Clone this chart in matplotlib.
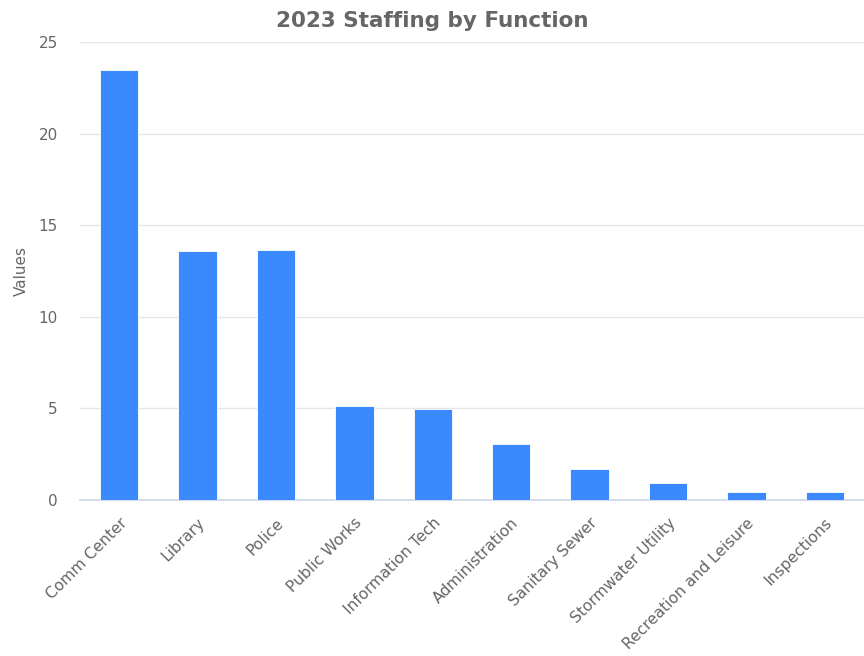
import matplotlib.pyplot as plt

functions = ["Comm Center", "Library", "Police", "Public Works", "Information Tech",
             "Administration", "Sanitary Sewer", "Stormwater Utility",
             "Recreation and Leisure", "Inspections"]
staff = [23.45, 13.6, 13.65, 5.12, 4.95, 3.07, 1.68, 0.95, 0.45, 0.45]
y_ticks = [0, 5, 10, 15, 20, 25]

plt.rcParams['font.family'] = ['DejaVu Sans']

fig = plt.figure(figsize=(8.64, 6.56), dpi=100)
ax = fig.add_axes([80 / 864, 156 / 656, 784 / 864, 458 / 656])

ax.bar(range(len(functions)), staff, width=0.49, color="#3a89ff",
       edgecolor="white", linewidth=0.6, zorder=3)

ax.set_xlim(-0.5, len(functions) - 0.5)
ax.set_ylim(0, 25)
ax.set_yticks(y_ticks)
ax.set_yticklabels([str(t) for t in y_ticks], fontsize=11, color="#666666")
ax.set_xticks(range(len(functions)))
ax.set_xticklabels(functions, rotation=45, ha="right", rotation_mode="anchor",
                   fontsize=11.2, color="#666666")
ax.tick_params(axis="both", length=0)
ax.tick_params(axis="y", pad=16)
ax.tick_params(axis="x", pad=11)

ax.grid(axis="y", color="#e6e6e6", linewidth=1, zorder=0)
for side in ["top", "right", "left"]:
    ax.spines[side].set_visible(False)
ax.spines["bottom"].set_color("#ccd6eb")
ax.spines["bottom"].set_linewidth(1.2)

ax.set_ylabel("Values", fontsize=11, color="#666666")
ax.yaxis.set_label_coords(-0.065, 0.5)
fig.text(0.5, 0.968, "2023 Staffing by Function", ha="center", va="center",
         fontsize=15.5, fontweight="bold", color="#666666")

fig.savefig("out.png", dpi=100)
